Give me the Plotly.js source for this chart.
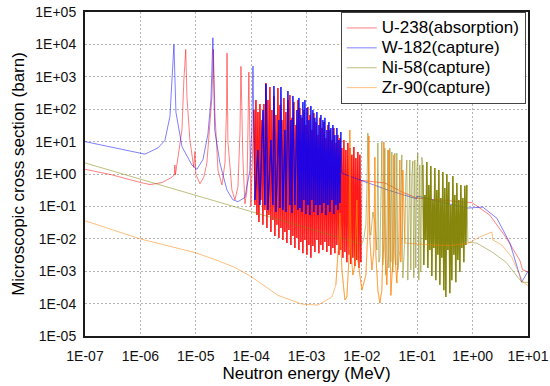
<!DOCTYPE html>
<html><head><meta charset="utf-8">
<script src="https://cdn.plot.ly/plotly-3.0.1.min.js"></script>
<style>html,body{margin:0;padding:0;background:#fff;}#chart{width:550px;height:386px;}</style>
</head><body><div id="chart"></div>
<script>
// ---- tick labels ----
const xTickVals = [1e-7, 1e-6, 1e-5, 1e-4, 1e-3, 1e-2, 1e-1, 1e0, 1e1];
const xTickText = ['1E-07','1E-06','1E-05','1E-04','1E-03','1E-02','1E-01','1E+00','1E+01'];
const yTickVals = [1e-5, 1e-4, 1e-3, 1e-2, 1e-1, 1e0, 1e1, 1e2, 1e3, 1e4, 1e5];
const yTickText = ['1E-05','1E-04','1E-03','1E-02','1E-01','1E+00','1E+01','1E+02','1E+03','1E+04','1E+05'];
const seriesNames = ['U-238(absorption)', 'W-182(capture)', 'Ni-58(capture)', 'Zr-90(capture)'];

// ---- U-238 absorption (MeV, barn) ----
const u238E_low = [1e-7, 3e-7, 1e-6, 1.5e-6, 2.5e-6, 3.5e-6, 4.1e-6, 4.2e-6, 4.3e-6, 4.78e-6, 5.64e-6, 6.1e-6, 6.6e-6, 6.93e-6, 7.85e-6, 9.2e-6, 9.7e-6, 1.0e-5, 1.19e-5, 1.4e-5, 1.59e-5, 1.96e-5, 2.08e-5, 2.22e-5, 2.52e-5, 2.97e-5, 3.37e-5, 3.6e-5, 3.67e-5, 3.81e-5, 4.5e-5, 5.1e-5, 5.78e-5, 6.3e-5, 6.55e-5, 7.1e-5, 7.73e-5, 8.4e-5, 9.1e-5, 9.9e-5];
const u238S_low = [1.4, 0.95, 0.55, 0.47, 0.55, 0.75, 0.93, 1.9, 0.95, 3.3, 23, 800, 7000, 240, 11, 1.6, 5, 1.0, 0.5, 0.8, 2.2, 240, 7000, 75, 1.3, 0.46, 2.2, 100, 5400, 10, 0.32, 0.16, 0.4, 20, 2100, 3, 0.12, 0.3, 1400, 0.1];
const u238E_band = [1.123e-4, 1.171e-4, 1.221e-4, 1.273e-4, 1.327e-4, 1.383e-4, 1.442e-4, 1.503e-4, 1.566e-4, 1.633e-4, 1.702e-4, 1.774e-4, 1.849e-4, 1.928e-4, 2.010e-4, 2.095e-4, 2.184e-4, 2.277e-4, 2.373e-4, 2.474e-4, 2.579e-4, 2.689e-4, 2.803e-4, 2.922e-4, 3.046e-4, 3.175e-4, 3.310e-4, 3.450e-4, 3.597e-4, 3.750e-4, 3.909e-4, 4.075e-4, 4.248e-4, 4.428e-4, 4.616e-4, 4.812e-4, 5.016e-4, 5.229e-4, 5.451e-4, 5.682e-4, 5.923e-4, 6.175e-4, 6.437e-4, 6.710e-4, 6.995e-4, 7.292e-4, 7.601e-4, 7.924e-4, 8.260e-4, 8.610e-4, 8.976e-4, 9.357e-4, 9.754e-4, 1.017e-3, 1.060e-3, 1.105e-3, 1.152e-3, 1.201e-3, 1.252e-3, 1.305e-3, 1.360e-3, 1.418e-3, 1.478e-3, 1.541e-3, 1.606e-3, 1.674e-3, 1.745e-3, 1.819e-3, 1.897e-3, 1.977e-3, 2.061e-3, 2.148e-3, 2.239e-3, 2.334e-3, 2.433e-3, 2.537e-3, 2.644e-3, 2.756e-3, 2.873e-3, 2.995e-3, 3.122e-3, 3.255e-3, 3.393e-3, 3.537e-3, 3.687e-3, 3.843e-3, 4.006e-3, 4.176e-3, 4.355e-3, 4.539e-3, 4.732e-3, 4.932e-3, 5.142e-3, 5.360e-3, 5.587e-3, 5.824e-3, 6.071e-3, 6.329e-3, 6.598e-3, 6.877e-3, 7.169e-3, 7.473e-3, 7.790e-3, 8.121e-3, 8.466e-3, 8.825e-3, 9.200e-3, 9.591e-3];
const u238S_band = [94, 0.11, 192, 0.054, 82, 0.033, 145, 0.158, 46, 0.027, 145, 0.077, 644, 0.0215, 192, 0.054, 484, 0.0162, 94, 0.038, 256, 0.0122, 66, 0.027, 451, 0.0106, 135, 0.0215, 46, 0.0092, 222, 0.0162, 82, 0.0074, 192, 0.0187, 274, 0.0064, 54, 0.0122, 167, 0.0052, 32.5, 0.0106, 192, 0.0045, 109, 0.0080, 54, 0.0036, 94, 0.0092, 32.5, 0.0032, 117, 0.0064, 66, 0.0026, 22.8, 0.0060, 76, 0.0039, 40, 0.0092, 16, 0.0036, 54, 0.0064, 26.3, 0.0045, 40, 0.0080, 12.9, 0.0039, 32.5, 0.0060, 22.8, 0.0032, 11.2, 0.0052, 26.3, 0.0036, 9.1, 0.0064, 16, 0.0032, 12.9, 0.0045, 6.3, 0.0026, 11.2, 0.0039, 5.5, 0.0019, 9.1, 0.0032, 6.3, 0.00167, 3.9, 0.0026, 6.8, 0.00145, 3.1, 0.0022, 4.8, 0.00126, 3.9, 0.0019];
const u238E_high = [1.0e-2, 2.6e-2, 5.3e-2, 9.8e-2, 0.3, 0.82, 0.98, 2.04, 4.0, 7.1, 8.0, 10];
const u238S_high = [0.63, 0.53, 0.28, 0.18, 0.15, 0.13, 0.13, 0.054, 0.011, 0.0022, 0.0011, 9.5e-4];

// ---- W-182 capture ----
const w182E_low = [1e-7, 2.8e-7, 5.7e-7, 1.21e-6, 2.08e-6, 2.78e-6, 3.42e-6, 3.72e-6, 4.04e-6, 4.39e-6, 5.64e-6, 8.5e-6, 1.05e-5, 1.35e-5, 1.66e-5, 1.88e-5, 2.04e-5, 2.2e-5, 2.73e-5, 3.66e-5, 4.69e-5, 5.78e-5, 7.73e-5, 9.5e-5, 1.03e-4, 1.08e-4];
const w182S_low = [10, 7.0, 5.3, 4.1, 6.4, 11, 60, 800, 1.0e4, 80, 7, 1.9, 1.4, 2.8, 17, 200, 1.6e4, 23, 2.2, 0.32, 0.16, 0.14, 0.19, 1.3, 23, 2150];
const w182E_band = [1.171e-4, 1.327e-4, 1.442e-4, 1.633e-4, 1.774e-4, 1.849e-4, 2.010e-4, 2.277e-4, 2.474e-4, 2.579e-4, 2.803e-4, 3.175e-4, 3.310e-4, 3.450e-4, 3.750e-4, 4.075e-4, 4.248e-4, 4.616e-4, 5.016e-4, 5.229e-4, 5.451e-4, 5.682e-4, 6.175e-4, 6.710e-4, 6.995e-4, 7.292e-4, 7.601e-4, 7.924e-4, 8.260e-4, 8.610e-4, 8.976e-4, 9.357e-4, 9.754e-4, 1.017e-3, 1.060e-3, 1.105e-3, 1.152e-3, 1.201e-3, 1.252e-3, 1.305e-3, 1.360e-3, 1.418e-3, 1.478e-3, 1.541e-3, 1.606e-3, 1.674e-3, 1.745e-3, 1.819e-3, 1.897e-3, 1.977e-3, 2.061e-3, 2.148e-3, 2.239e-3, 2.334e-3, 2.433e-3, 2.537e-3, 2.644e-3, 2.756e-3, 2.873e-3, 2.995e-3, 3.122e-3, 3.255e-3, 3.393e-3, 3.537e-3, 3.687e-3, 3.843e-3, 4.006e-3, 4.176e-3];
const w182S_band = [0.158, 5.5, 0.11, 94, 0.11, 600, 0.077, 11.2, 0.11, 520, 0.067, 46, 0.089, 484, 0.077, 22.8, 0.067, 364, 0.11, 46, 0.0625, 256, 0.11, 94, 0.077, 222, 0.089, 66, 0.067, 167, 0.158, 192, 0.058, 109, 0.11, 46, 0.054, 126, 0.158, 94, 0.067, 54, 0.11, 82, 0.054, 32.5, 0.11, 66, 0.0625, 46, 0.127, 54, 0.054, 22.8, 0.11, 40, 0.067, 26.3, 0.158, 32.5, 0.058, 16, 0.11, 26.3, 0.077, 11.2, 0.127, 19.8];
const w182E_high = [4.355e-3, 6.07e-3, 1.28e-2, 2.95e-2, 9.8e-2, 9.9e-2, 0.3, 0.82, 1.53, 2.74, 4.7, 7.7, 10];
const w182S_high = [1.07, 0.85, 0.53, 0.32, 0.17, 0.21, 0.13, 0.089, 0.095, 0.043, 0.0075, 4.6e-4, 1.0e-3];

// ---- Ni-58 capture ----
const ni58E_low = [1e-7, 9.2e-3];
const ni58S_low = [2.2, 0.0070];
const ni58E_res = [1.0e-2, 1.087e-2, 1.181e-2, 1.231e-2, 1.283e-2, 1.337e-2, 1.394e-2, 1.454e-2, 1.581e-2, 1.718e-2, 1.867e-2, 1.946e-2, 2.028e-2, 2.114e-2, 2.203e-2, 2.297e-2, 2.394e-2, 2.495e-2, 2.601e-2, 2.711e-2, 2.826e-2, 2.946e-2, 3.071e-2, 3.201e-2, 3.337e-2, 3.479e-2, 3.626e-2, 3.780e-2, 3.940e-2, 4.107e-2, 4.281e-2, 4.463e-2, 4.849e-2, 5.055e-2, 5.269e-2, 5.492e-2, 5.968e-2, 6.221e-2, 6.485e-2, 6.760e-2, 7.046e-2, 7.345e-2, 7.656e-2, 7.98e-2, 8.32e-2, 8.67e-2, 9.04e-2, 9.42e-2, 9.82e-2, 0.1024, 0.1068, 0.1113, 0.1160, 0.1210];
const ni58S_res = [0.0069, 0.0106, 0.027, 0.32, 18.4, 0.158, 0.0162, 0.0131, 0.067, 0.033, 0.0045, 9.1, 0.0019, 0.0026, 0.158, 9.7, 0.00155, 0.0092, 6.3, 0.00076, 0.0187, 5.5, 0.00126, 6.3, 0.0019, 4.8, 0.00094, 0.0131, 4.4, 0.00155, 4.4, 0.00109, 0.0045, 0.158, 3.9, 0.00062, 0.0092, 0.65, 2.7, 0.00053, 0.0187, 2.7, 0.00109, 0.93, 2.5, 0.00062, 2.7, 0.00126, 1.33, 4.4, 0.00053, 1.9, 0.00094, 3.3];
const ni58E_band = [0.1261, 0.1314, 0.1370, 0.1428, 0.1489, 0.1552, 0.1618, 0.1687, 0.1758, 0.1833, 0.1911, 0.1992, 0.2077, 0.2165, 0.2257, 0.2353, 0.2453, 0.2557, 0.2666, 0.2779, 0.2897, 0.3020, 0.3148, 0.3282, 0.3421, 0.3566, 0.3718, 0.3876, 0.4040, 0.4212, 0.4391, 0.4577, 0.4772, 0.4974, 0.5186, 0.5406, 0.5636, 0.5875, 0.6125, 0.6385, 0.6656, 0.6939, 0.7233, 0.7541, 0.7861];
const ni58S_band = [1.9, 0.00155, 0.225, 0.0092, 2.35, 0.00126, 0.46, 0.0045, 1.77, 0.00071, 0.158, 0.0052, 1.53, 0.00053, 0.32, 0.0032, 1.33, 0.00038, 0.18, 0.0026, 1.15, 0.00026, 0.37, 0.00016, 1.0, 0.0045, 0.57, 0.00021, 0.11, 0.00053, 0.87, 0.0032, 0.225, 0.00046, 0.53, 0.0022, 0.158, 0.00094, 0.46, 0.0052, 0.18, 0.0019, 0.43, 0.0064, 0.46];
const ni58E_high = [0.82, 1.18, 1.5, 2.2, 4.0, 7.7, 10];
const ni58S_high = [0.0078, 0.0074, 0.0058, 0.0040, 0.0019, 4.6e-4, 4.5e-4];

// ---- Zr-90 capture ----
const zr90E_low = [1e-7, 1e-6, 1e-5, 2.55e-5, 5.1e-5, 1.03e-4, 3.05e-4, 8.3e-4, 1.6e-3, 2.87e-3];
const zr90S_low = [0.036, 0.0099, 0.0037, 0.0021, 0.0013, 6.6e-4, 1.8e-4, 9.6e-5, 9.0e-5, 1.6e-4];
const zr90E_res = [3.39e-3, 3.69e-3, 3.84e-3, 4.006e-3, 4.176e-3, 4.355e-3, 4.932e-3, 5.36e-3, 5.824e-3, 6.071e-3, 6.329e-3, 6.877e-3, 7.473e-3, 8.121e-3, 8.466e-3, 1.0e-2, 1.181e-2, 1.283e-2, 1.337e-2, 1.394e-2, 1.517e-2, 1.648e-2, 1.718e-2, 1.791e-2, 1.946e-2, 2.114e-2, 2.297e-2, 2.394e-2, 2.495e-2, 2.601e-2, 2.826e-2, 2.946e-2, 3.071e-2, 3.201e-2, 3.337e-2, 3.626e-2, 3.780e-2, 3.940e-2, 4.281e-2, 4.652e-2, 4.849e-2, 5.055e-2, 5.269e-2, 5.492e-2, 5.725e-2, 5.968e-2];
const zr90S_res = [3.8e-4, 0.0022, 0.0092, 0.0625, 0.0064, 0.00109, 1.3e-4, 1.6e-4, 0.0022, 22.8, 0.0045, 7.6e-4, 0.00155, 0.158, 0.0022, 2.6e-4, 7.6e-4, 0.0187, 15, 0.0092, 0.00109, 0.0045, 3.3, 0.0032, 2.6e-4, 1.04e-4, 2.6e-4, 0.0045, 9.7, 0.0045, 3.8e-4, 0.0032, 5.5, 0.0022, 1.8e-4, 0.0022, 3.9, 0.0032, 4.3e-4, 0.0092, 2.7, 0.0019, 0.0187, 1.33, 0.027, 0.0074];
const zr90E_high = [0.2, 0.4, 0.82, 1.35, 2.22, 2.32, 3.37, 5.1, 7.1, 8.05, 10];
const zr90S_high = [0.0064, 0.0062, 0.0072, 0.0114, 0.0162, 0.0092, 0.0064, 0.0027, 7.7e-4, 4.7e-4, 3.6e-4];

// ---- build traces ----
function legendLabel(s) { return '<span style="font-size:17px">' + s + '</span>'; }
function line(x, y, color, name, show, w) {
  return {x: x, y: y, type: 'scatter', mode: 'lines', name: name, showlegend: show,
          line: {color: color, width: w || 1}, hoverinfo: 'skip'};
}
const traces = [
  line(u238E_low.concat(u238E_band, u238E_high), u238S_low.concat(u238S_band, u238S_high), 'rgba(255,0,0,0.5)', legendLabel(seriesNames[0]), true),
  line(u238E_band, u238S_band, 'rgba(255,0,0,0.8)', seriesNames[0], false, 1.4),
  line(w182E_low.concat(w182E_band, w182E_high), w182S_low.concat(w182S_band, w182S_high), 'rgba(0,0,255,0.5)', legendLabel(seriesNames[1]), true),
  line(w182E_band, w182S_band, 'rgba(0,0,255,0.75)', seriesNames[1], false, 1.3),
  line(ni58E_low.concat(ni58E_res, ni58E_band, ni58E_high), ni58S_low.concat(ni58S_res, ni58S_band, ni58S_high), 'rgba(128,128,0,0.5)', legendLabel(seriesNames[2]), true),
  line(ni58E_band, ni58S_band, 'rgba(128,128,0,0.9)', seriesNames[2], false, 1.4),
  line(zr90E_low.concat(zr90E_res, zr90E_high), zr90S_low.concat(zr90S_res, zr90S_high), 'rgba(255,128,0,0.5)', legendLabel(seriesNames[3]), true),
  line(zr90E_res, zr90S_res, 'rgba(255,128,0,0.45)', seriesNames[3], false)
];

const axisCommon = {
  type: 'log', ticks: '', showgrid: true, gridcolor: '#b4b4b4', griddash: '2px,2px', gridwidth: 1,
  showline: true, linecolor: '#1a1a1a', linewidth: 2, mirror: true, zeroline: false,
  tickfont: {size: 14, color: '#111'}
};
const layout = {
  width: 550, height: 386,
  margin: {l: 85, r: 22, t: 12, b: 50},
  paper_bgcolor: '#ffffff', plot_bgcolor: '#ffffff',
  font: {family: 'Arial, "Liberation Sans", sans-serif', size: 14, color: '#000'},
  xaxis: Object.assign({}, axisCommon, {range: [-7, 1], tickvals: xTickVals, ticktext: xTickText,
    ticklabelstandoff: 6, title: {text: 'Neutron energy (MeV)', font: {size: 17}, standoff: 4}}),
  yaxis: Object.assign({}, axisCommon, {range: [-5, 5], tickvals: yTickVals, ticktext: yTickText,
    ticklabelstandoff: 4, title: {text: 'Microscopic cross section (barn)', font: {size: 17}, standoff: 6}}),
  legend: {x: 0.995, xanchor: 'right', y: 1, yanchor: 'top', bgcolor: '#ffffff',
    bordercolor: '#444', borderwidth: 1, font: {size: 13}, tracegroupgap: 0},
  showlegend: true
};
Plotly.newPlot('chart', traces, layout, {staticPlot: true, displayModeBar: false});
</script>
</body></html>
